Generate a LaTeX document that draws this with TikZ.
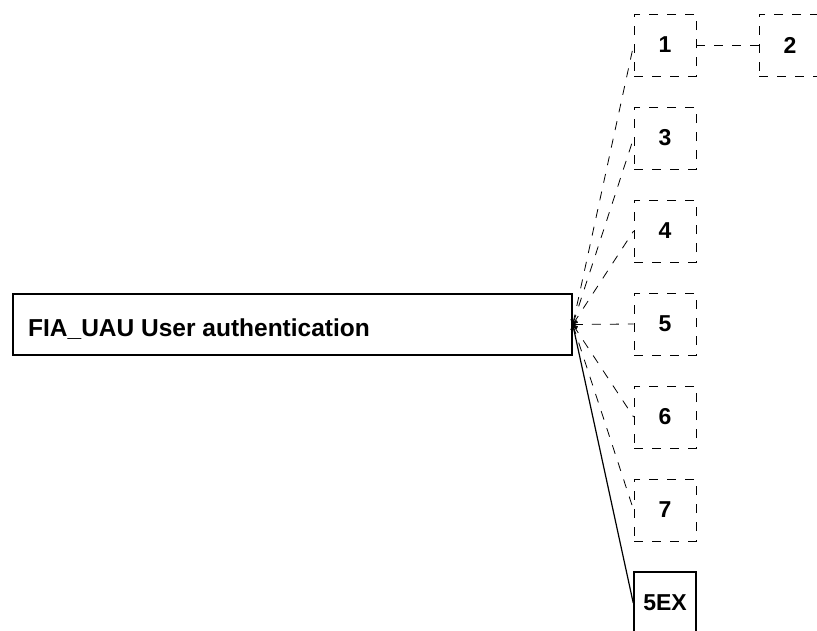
\documentclass[tikz,border=0pt]{standalone}
\usepackage{fontspec}
\setmainfont{Liberation Sans}
\usetikzlibrary{arrows.meta}

\tikzset{
	sub/.style={draw, dash pattern=on 9pt off 9pt, line width=0.8pt, minimum size=62pt, inner sep=0pt, font=\bfseries\fontsize{23}{27}\selectfont},
	dep/.style={dash pattern=on 9pt off 9pt, line width=0.8pt},
	tip/.style={{Straight Barb[length=4pt,width=6pt]}-}
}

\begin{document}
\begin{tikzpicture}[x=1pt, y=-1pt]
	\useasboundingbox (0,0) rectangle (817,630);
	
	%main box
	\node[draw, line width=1.5pt, minimum width=559pt, minimum height=61pt, inner sep=0pt] (uau) at (292.5,324.5) {};
	\node[anchor=base west, font=\bfseries\fontsize{24.5}{29}\selectfont, inner sep=0pt] (uaulabel) at (28,336) {FIA\_UAU User authentication};
	
	%components
	\node[sub] (c1) at (665,45)  {1};
	\node[sub] (c2) at (790,45)  {2};
	\node[sub] (c3) at (665,138) {3};
	\node[sub] (c4) at (665,231) {4};
	\node[sub] (c5) at (665,324) {5};
	\node[sub] (c6) at (665,417) {6};
	\node[sub] (c7) at (665,510) {7};
	\node[sub, solid, line width=1.5pt] (c5ex) at (665,603) {5EX};
	
	%connectors
	\draw[dep, tip] (uau.east) -- (c1.west);
	\draw[dep, tip] (uau.east) -- (c3.west);
	\draw[dep, tip] (uau.east) -- (c4.west);
	\draw[dep, tip] (uau.east) -- (c5.west);
	\draw[dep, tip] (uau.east) -- (c6.west);
	\draw[dep, tip] (uau.east) -- (c7.west);
	\draw[line width=1.2pt, tip] (uau.east) -- (c5ex.west);		%solid
	\draw[dep] (c1.east) -- (c2.west);
\end{tikzpicture}
\end{document}
